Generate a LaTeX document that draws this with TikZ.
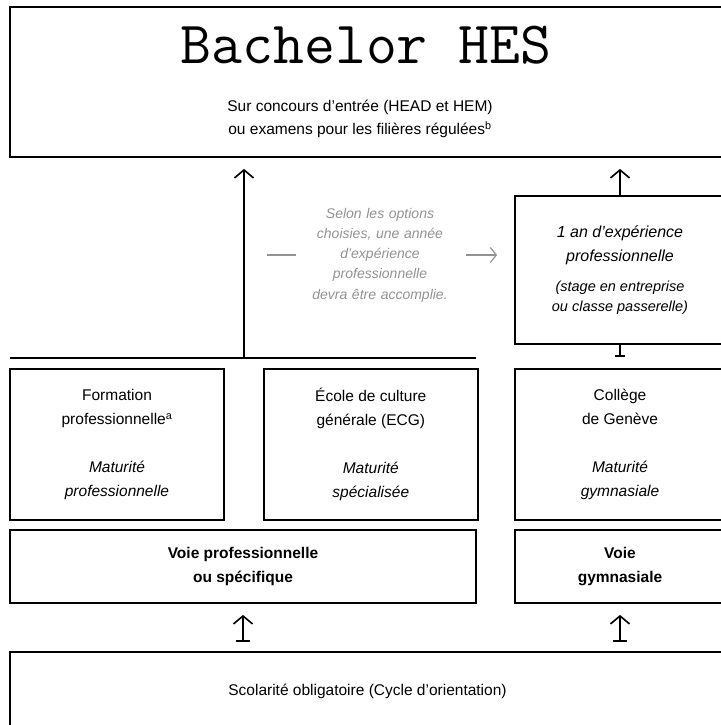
\documentclass[tikz,border=0pt]{standalone}
\usepackage{fontspec}
\setmainfont{Liberation Sans}
\usetikzlibrary{positioning,arrows.meta}
\definecolor{notegray}{HTML}{929292}

\begin{document}
\begin{tikzpicture}[x=1pt,y=1pt,line width=1.8pt,
box/.style={draw,rectangle,inner sep=0pt,align=center,
  font=\fontsize{15.5}{24}\selectfont},
arr/.style={line width=1.6pt,-{Straight Barb[length=8pt,width=19pt]}},
barr/.style={line width=1.6pt,{Bar[width=14pt]}-{Straight Barb[length=8pt,width=19pt]}},
note/.style={text=notegray,font=\fontsize{14}{20.3}\selectfont\itshape,
  align=center,text width=150pt,inner sep=0pt},
grayline/.style={draw=notegray,line width=1.2pt}]
\useasboundingbox (0,0) rectangle (720,725);

% Bachelor
\node[box,minimum width=715,minimum height=150] (bach) at (367.5,643) {};
\node[anchor=base,inner sep=0pt] (title) at (366,661) {\ttfamily\fontsize{60}{66}\selectfont Bachelor HES};
\node[align=center,font=\fontsize{15.5}{23}\selectfont] (cond) at (360,606)
  {Sur concours d’entrée (HEAD et HEM)\\ou examens pour les filières régulées\textsuperscript{b}};

% annee d'experience
\node[box,minimum width=210,minimum height=148,font=\fontsize{16}{24}\selectfont\itshape] (exp) at (620,455)
  {1 an d’expérience\\professionnelle\\[6pt]
   {\fontsize{14.5}{20}\selectfont (stage en entreprise}\\[-4pt]
   {\fontsize{14.5}{20}\selectfont ou classe passerelle)}};
\node[note] (opt) at (380,470)
  {Selon les options\\choisies, une année\\d’expérience\\professionnelle\\devra être accomplie.};

% formations
\node[box,minimum width=214,minimum height=151] (fp) at (117,280.5)
  {Formation\\professionnelle\textsuperscript{a}\\[24pt]\textit{Maturité}\\\textit{professionnelle}};
\node[box,minimum width=214,minimum height=151] (ecg) [right=38pt of fp]
  {École de culture\\générale (ECG)\\[24pt]\textit{Maturité}\\\textit{spécialisée}};
\node[box,minimum width=210,minimum height=151] (coll) at (620,280.5)
  {Collège\\de Genève\\[24pt]\textit{Maturité}\\\textit{gymnasiale}};

% voies
\node[box,minimum width=466,minimum height=73,font=\fontsize{15.5}{24}\selectfont\bfseries] (vp) at (243,158.5)
  {Voie professionnelle\\ou spécifique};
\node[box,minimum width=210,minimum height=73,font=\fontsize{15.5}{24}\selectfont\bfseries] (vg) at (620,158.5)
  {Voie\\gymnasiale};

% scolarite
\node[box,minimum width=715,minimum height=78] (scol) at (367.5,34)
  {Scolarité obligatoire (Cycle d’orientation)};

\coordinate (hlw) at (10,367);
\coordinate (hle) at (476,367);
\coordinate (hl) at (244,367);

\draw (hlw) -- (hle);
\draw[arr,shorten >=11pt] (hl) -- (hl |- bach.south);
\draw[arr,shorten >=11pt] (exp.north) -- (exp.north |- bach.south);
\draw[line width=1.6pt,{Bar[width=10pt]}-,shorten <=11pt] (coll.north) -- (exp.south);
\draw[barr,shorten <=9pt,shorten >=11pt] (vp.south |- scol.north) -- (vp.south);
\draw[barr,shorten <=9pt,shorten >=11pt] (vg.south |- scol.north) -- (vg.south);

\draw[grayline] ([xshift=-8pt]opt.west) -- ++(-29,0);
\draw[grayline,-{Straight Barb[length=6pt,width=15pt]},shorten >=17pt]
  ([xshift=10pt]opt.east) -- (opt.east -| exp.west);
\end{tikzpicture}
\end{document}
